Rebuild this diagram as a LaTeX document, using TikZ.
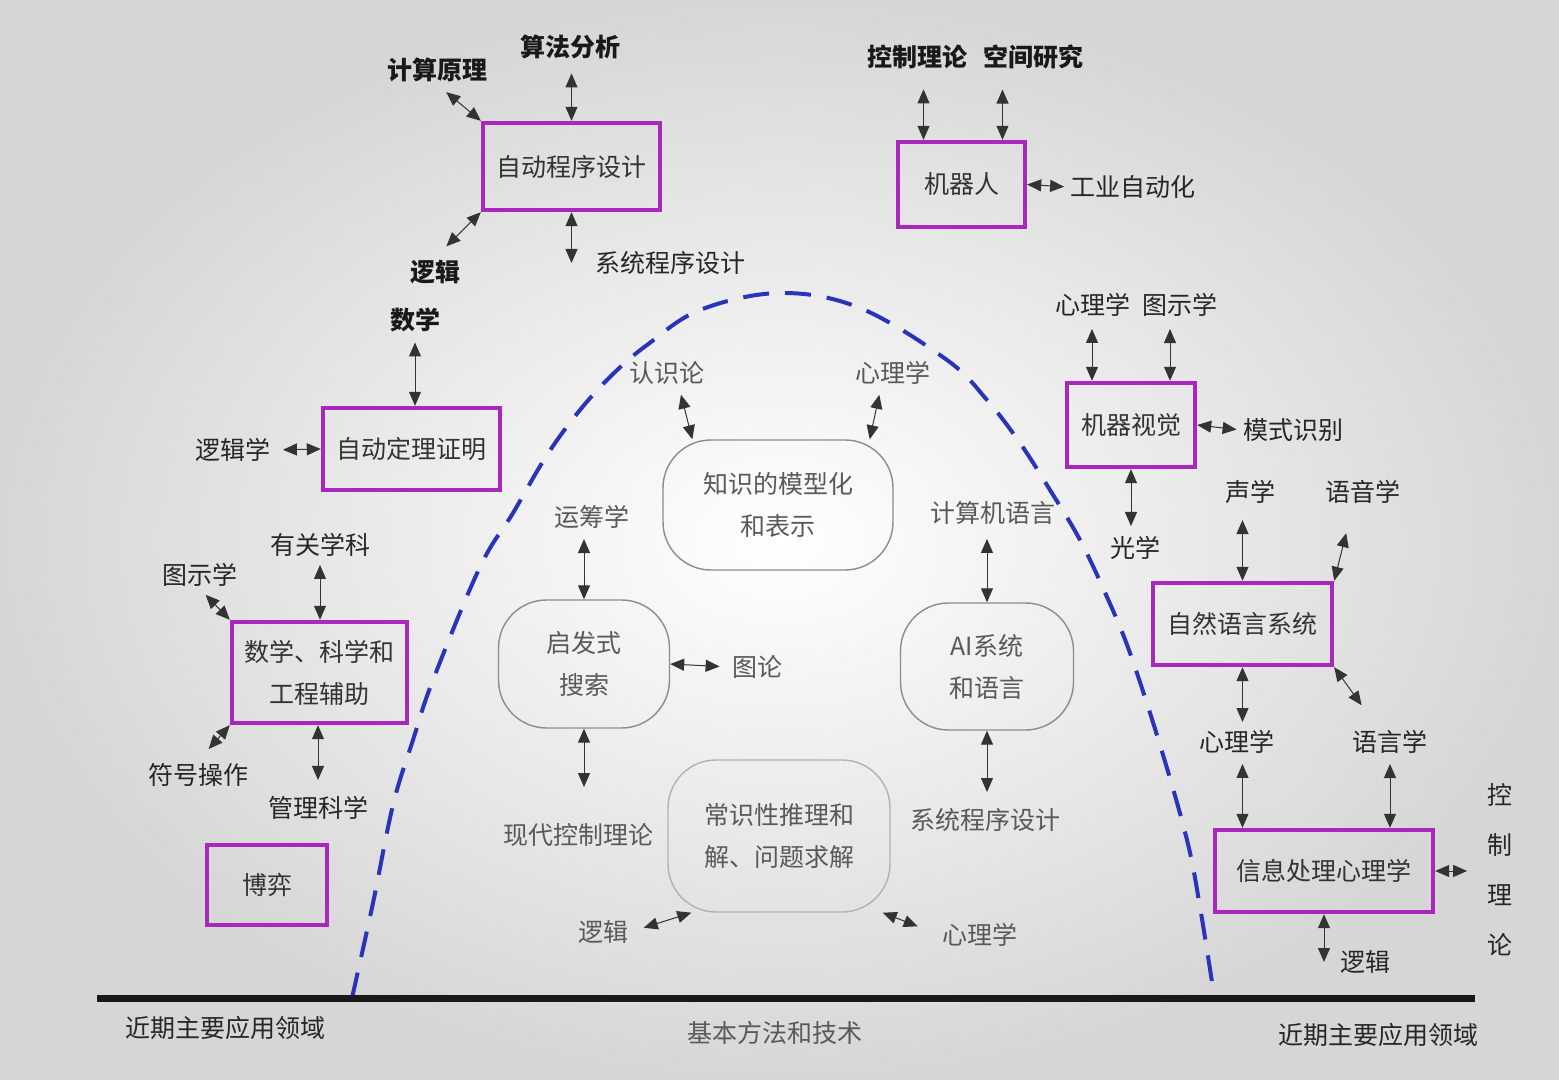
\documentclass[tikz,border=0pt]{standalone}
\usepackage{fontspec}
\setmainfont{Noto Sans CJK SC}
\usetikzlibrary{arrows.meta}
\definecolor{boxpurple}{HTML}{A828BC}
\definecolor{curveblue}{HTML}{2A34B8}
\newcommand\lblfont{\fontsize{12.5}{21}\selectfont}
\tikzset{
  lab/.style={font=\lblfont, inner sep=1pt, text=black!85},
  blab/.style={font=\lblfont\bfseries, inner sep=1pt, text=black!90},
  clab/.style={font=\lblfont, inner sep=1pt, text=black!65},
  pbox/.style={draw=boxpurple, line width=2.2pt, align=center, font=\lblfont, inner sep=0pt, text=black!80},
  rnode/.style={draw=black!45, line width=0.7pt, rounded corners=24pt, align=center, font=\lblfont, text=black!65, inner sep=0pt},
  dbl/.style={{Triangle[length=7pt,width=6pt]}-{Triangle[length=7pt,width=6pt]}, line width=0.5pt, draw=black!80},
}
\begin{document}
\begin{tikzpicture}[x=0.5pt,y=-0.5pt]
\useasboundingbox (0,0) rectangle (1559,1080);
\shade[inner color=white, outer color=black!16] (0,0) rectangle (1559,1080);

% ---------- dashed curve ----------
\draw[curveblue, line width=2pt, dash pattern=on 13pt off 8pt]
  plot[smooth, tension=0.6] coordinates {(352,998) (373,903) (393,805) (413,740) (433,680) (480,567) (513,513) (547,455) (580,410) (613,374) (647,345) (700,310) (780,293) (860,308) (947,360) (987,400) (1020,443) (1050,490) (1080,540) (1107,597) (1130,653) (1160,745) (1187,840) (1200,907) (1214,995)};

% ---------- left: boxes ----------
\node[pbox, minimum width=88.5pt, minimum height=43.5pt] (apd) at (571.5,166.5) {自动程序设计};
\node[pbox, minimum width=88.5pt, minimum height=41pt] (adt) at (411.5,449) {自动定理证明};
\node[pbox, minimum width=87.5pt, minimum height=50.5pt] (msk) at (319.5,672.5) {数学、科学和\\工程辅助};
\node[pbox, minimum width=60pt, minimum height=40pt] (boyi) at (267,885) {博弈};

% left labels
\node[blab] (jsyl) at (437,70) {计算原理};
\node[blab] (sffx) at (570,47) {算法分析};
\node[lab] (xtcx1) at (670,263) {系统程序设计};
\node[blab] (luoji1) at (435,272) {逻辑};
\node[blab] (shuxue) at (415,320) {数学};
\node[lab] (ljx) at (233,450) {逻辑学};
\node[lab] (ygxk) at (320,545) {有关学科};
\node[lab] (tsx1) at (200,575) {图示学};
\node[lab] (fhcz) at (198,775) {符号操作};
\node[lab] (glkx) at (318,808) {管理科学};

\draw[dbl, shorten <=6pt] (jsyl.south) -- (apd.north west);
\draw[dbl, shorten <=6pt] (apd.north |- sffx.south) -- (apd.north);
\draw[dbl] (apd.south) -- (apd.south |- xtcx1.center);
\draw[dbl, shorten <=8pt] (luoji1.north) -- (apd.south west);
\draw[dbl, shorten <=4pt] (shuxue.south) -- (shuxue.south |- adt.north);
\draw[dbl, shorten <=5pt] (ljx.east) -- (adt.west);
\draw[dbl, shorten <=3pt] (ygxk.south) -- (ygxk.south |- msk.north);
\draw[dbl, shorten <=4pt] (tsx1.south) -- (msk.north west);
\draw[dbl, shorten <=8pt] (fhcz.north) -- (msk.south west);
\draw[dbl, shorten <=7pt] (glkx.north) -- (glkx.north |- msk.south);

% ---------- center ----------
\node[rnode, minimum width=115pt, minimum height=65pt] (zs) at (778,505) {知识的模型化\\和表示};
\node[rnode, minimum width=85.5pt, minimum height=64pt] (qfs) at (584,664) {启发式\\搜索};
\node[rnode, minimum width=86.5pt, minimum height=63.5pt] (ai) at (987,666.5) {AI系统\\和语言};
\node[rnode, draw=black!30, minimum width=111pt, minimum height=76pt] (cs) at (779,836) {常识性推理和\\解、问题求解};

\node[clab] (rsl) at (667,373) {认识论};
\node[clab] (xlx1) at (893,373) {心理学};
\node[clab] (ych) at (592,517) {运筹学};
\node[clab] (tl) at (757,667) {图论};
\node[clab] (jsjyy) at (993,513) {计算机语言};
\node[clab] (xdkz) at (578,835) {现代控制理论};
\node[clab] (xtcx2) at (985,820) {系统程序设计};
\node[clab] (lj2) at (603,932) {逻辑};
\node[clab] (xlx2) at (980,935) {心理学};

\draw[dbl, shorten <=4pt] ([xshift=6pt]rsl.south) -- ([xshift=15pt]zs.north west);
\draw[dbl, shorten <=4pt] ([xshift=-6pt]xlx1.south) -- ([xshift=-12pt]zs.north east);
\draw[dbl, shorten <=4pt] (qfs.north |- ych.south) -- (qfs.north);
\draw[dbl, shorten <=5pt] (tl.west) -- (qfs.east);
\draw[dbl, shorten <=6pt] (ai.north |- jsjyy.south) -- (ai.north);
\draw[dbl, shorten <=17pt] (qfs.south |- xdkz.north) -- (qfs.south);
\draw[dbl, shorten <=7pt] (ai.south |- xtcx2.north) -- (ai.south);
\draw[dbl, shorten <=7pt] (lj2.east) -- ([xshift=12pt]cs.south west);
\draw[dbl, shorten <=12pt] (xlx2.west) -- ([xshift=-4pt]cs.south east);

% ---------- right ----------
\node[pbox, minimum width=63.5pt, minimum height=42.5pt] (jqr) at (961.5,184.5) {机器人};
\node[pbox, minimum width=64pt, minimum height=42pt] (jqsj) at (1131,425) {机器视觉};
\node[pbox, minimum width=89.5pt, minimum height=41pt] (zryy) at (1242.5,624) {自然语言系统};
\node[pbox, minimum width=109pt, minimum height=41pt] (xxcl) at (1324,871) {信息处理心理学};

\node[blab] (kzll1) at (917,57) {控制理论};
\node[blab] (kjyj) at (1033,57) {空间研究};
\node[lab] (gyzdh) at (1133,187) {工业自动化};
\node[lab] (xlx3) at (1093,305) {心理学};
\node[lab] (tsx2) at (1180,305) {图示学};
\node[lab] (mssb) at (1293,430) {模式识别};
\node[lab] (gx) at (1135,548) {光学};
\node[lab] (sx) at (1250,492) {声学};
\node[lab] (yyx) at (1363,492) {语音学};
\node[lab] (xlx4) at (1237,742) {心理学};
\node[lab] (yyx2) at (1390,742) {语言学};
\node[lab, align=center, font=\fontsize{12.5}{25}\selectfont] (kzll2) at (1500,870) {控\\制\\理\\论};
\node[lab] (lj3) at (1365,962) {逻辑};

\coordinate (r1) at ([xshift=-19pt]jqr.north);
\coordinate (r2) at ([xshift=20.5pt]jqr.north);
\coordinate (v1) at ([xshift=-19.5pt]jqsj.north);
\coordinate (v2) at ([xshift=19.5pt]jqsj.north);

\draw[dbl, shorten <=9pt] (r1 |- kzll1.south) -- (r1);
\draw[dbl, shorten <=9pt] (r2 |- kjyj.south) -- (r2);
\draw[dbl, shorten <=2pt] (gyzdh.west) -- (jqr.east);
\draw[dbl, shorten <=5pt] (v1 |- xlx3.south) -- (v1);
\draw[dbl, shorten <=5pt] (v2 |- tsx2.south) -- (v2);
\draw[dbl, shorten <=2pt] (mssb.west) -- (jqsj.east);
\draw[dbl, shorten <=4pt] (jqsj.south |- gx.north) -- (jqsj.south);
\draw[dbl, shorten <=7pt] (zryy.north |- sx.south) -- (zryy.north);
\draw[dbl, shorten <=14pt] ([xshift=-5pt]yyx.south) -- (zryy.north east);
\draw[dbl, shorten <=3pt] (zryy.south |- xlx4.north) -- (zryy.south);
\draw[dbl, shorten <=4pt] (zryy.south |- xlx4.south) -- (zryy.south |- xxcl.north);
\draw[dbl, shorten <=14pt] ([xshift=-6pt]yyx2.north) -- (zryy.south east);
\draw[dbl, shorten <=4pt] (yyx2.south) -- (yyx2.south |- xxcl.north);
\draw[dbl, shorten <=9pt] (kzll2.west |- xxcl.east) -- (xxcl.east);
\draw[dbl] (xxcl.south) -- (xxcl.south |- lj3.center);

% ---------- bottom ----------
\coordinate (bl) at (97,998);
\coordinate (br) at (1475,998);
\draw[line width=3.5pt, black!90] (bl) -- (br);
\node[lab] (jq1) at (225,1028) {近期主要应用领域};
\node[clab] (jb) at (775,1033) {基本方法和技术};
\node[lab] (jq2) at (1378,1035) {近期主要应用领域};
\end{tikzpicture}
\end{document}
